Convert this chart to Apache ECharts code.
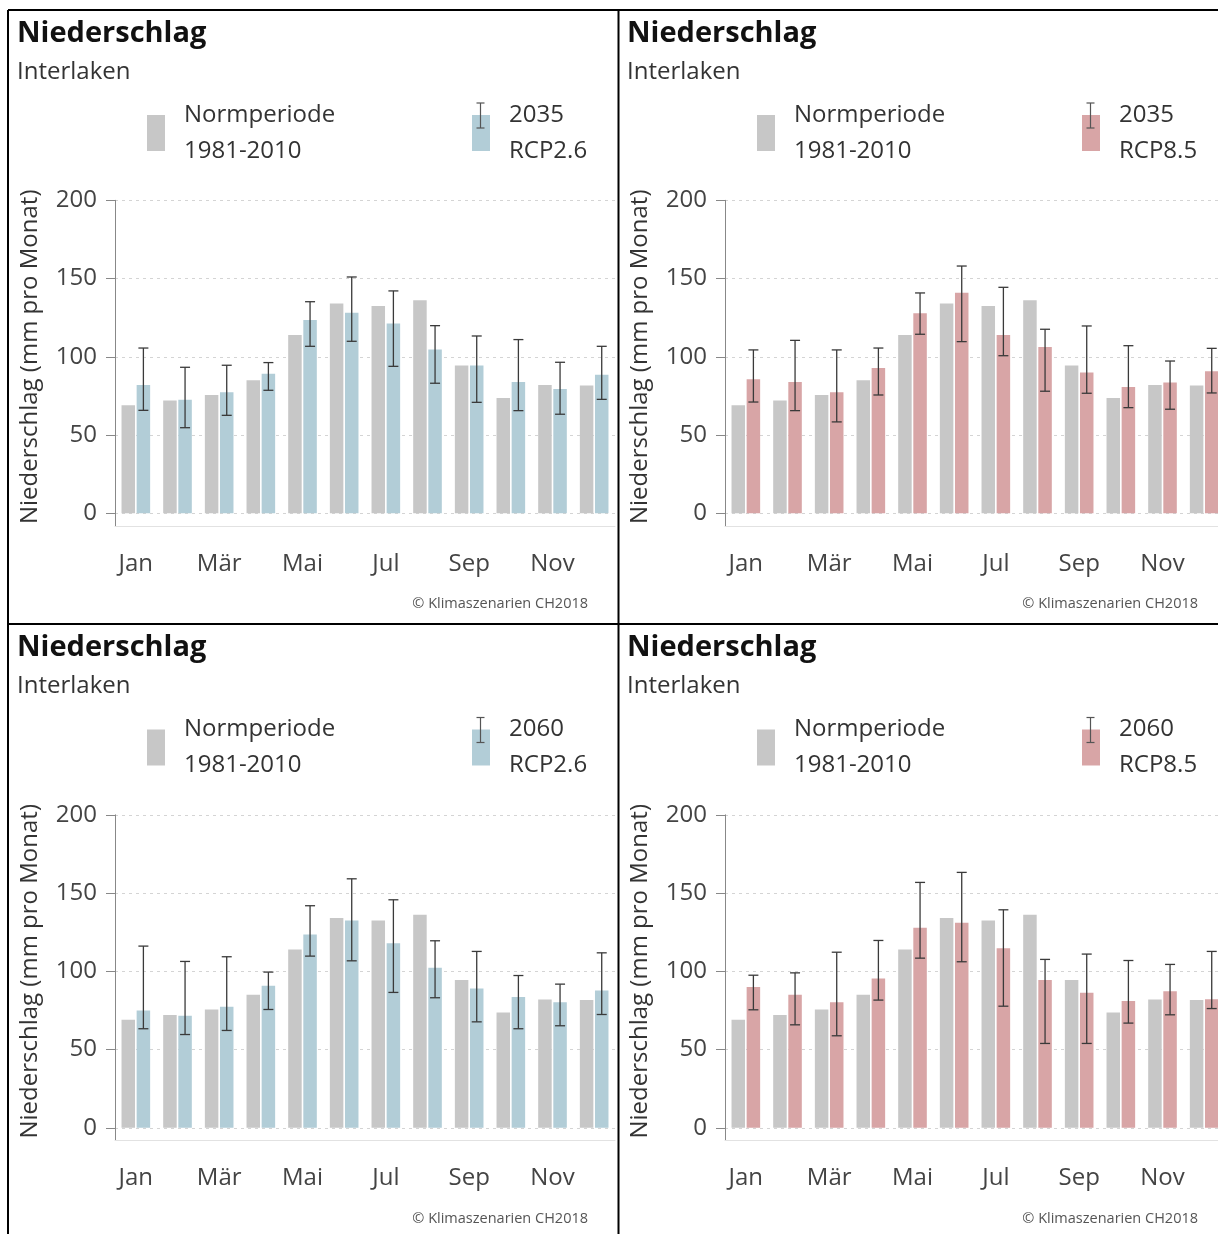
<!DOCTYPE html>
<html>
<head>
<meta charset="utf-8">
<script src="https://cdn.jsdelivr.net/npm/echarts@6/dist/echarts.min.js"></script>
<style>
html,body{margin:0;padding:0;background:#fff;}
#c{width:1218px;height:1234px;}
</style>
</head>
<body>
<div id="c"></div>
<script>
// ---- data ----
const months = ['Jan','Feb','Mär','Apr','Mai','Jun','Jul','Aug','Sep','Okt','Nov','Dez'];
const yTicks = [0, 50, 100, 150, 200];
const normName = 'Normperiode\n1981-2010';
const norm = [69.0, 72.0, 75.6, 85.0, 114.0, 134.0, 132.5, 136.1, 94.4, 73.7, 82.0, 81.6];

const rcp26_2035 = [82.0, 72.6, 77.3, 89.2, 123.5, 128.2, 121.2, 104.6, 94.4, 83.9, 79.4, 88.6];
const rcp26_2035_lo = [65.8, 54.7, 62.6, 78.6, 106.7, 109.9, 93.9, 83.1, 70.9, 65.6, 63.3, 72.8];
const rcp26_2035_hi = [105.6, 93.3, 94.6, 96.3, 135.2, 151.0, 142.1, 119.9, 113.3, 111.0, 96.5, 106.7];

const rcp85_2035 = [85.6, 83.9, 77.3, 92.9, 127.8, 141.0, 114.0, 106.3, 89.9, 80.7, 83.5, 90.7];
const rcp85_2035_lo = [71.1, 65.6, 58.4, 75.6, 114.4, 109.7, 100.7, 78.0, 76.7, 67.5, 66.5, 76.9];
const rcp85_2035_hi = [104.4, 110.5, 104.4, 105.6, 140.8, 158.0, 144.4, 117.6, 119.7, 107.1, 97.3, 105.4];

const rcp26_2060 = [75.0, 71.6, 77.3, 90.7, 123.5, 132.5, 118.0, 102.2, 89.0, 83.5, 80.3, 87.8];
const rcp26_2060_lo = [63.3, 59.6, 62.2, 75.6, 109.7, 106.7, 86.5, 83.1, 67.7, 63.3, 65.2, 72.4];
const rcp26_2060_hi = [116.1, 106.3, 109.3, 99.5, 141.9, 159.1, 145.7, 119.5, 112.7, 97.3, 91.8, 111.8];

const rcp85_2060 = [89.9, 85.0, 80.3, 95.4, 127.8, 131.0, 114.8, 94.4, 86.3, 81.1, 87.3, 82.2];
const rcp85_2060_lo = [75.4, 65.8, 58.8, 81.6, 108.4, 106.1, 77.7, 53.9, 53.9, 66.9, 72.2, 76.2];
const rcp85_2060_hi = [97.5, 99.0, 112.2, 119.7, 156.8, 163.2, 139.3, 107.6, 111.0, 106.9, 104.4, 112.7];

// ---- styling / layout ----
const FONT = 'Open Sans';
const GRAY = '#c7c7c7';
const BLUE = '#b2cdd7';
const RED = '#d8a5a6';
const BAR_W = 13.5;
const BAR_GAP = 0.12;
const ERR_OFF = (BAR_W + BAR_W * BAR_GAP) / 2;

const panels = [
  {ox: 0,   oy: 0,     name: '2035\nRCP2.6', color: BLUE, val: rcp26_2035, lo: rcp26_2035_lo, hi: rcp26_2035_hi},
  {ox: 610, oy: 0,     name: '2035\nRCP8.5', color: RED,  val: rcp85_2035, lo: rcp85_2035_lo, hi: rcp85_2035_hi},
  {ox: 0,   oy: 614.5, name: '2060\nRCP2.6', color: BLUE, val: rcp26_2060, lo: rcp26_2060_lo, hi: rcp26_2060_hi},
  {ox: 610, oy: 614.5, name: '2060\nRCP8.5', color: RED,  val: rcp85_2060, lo: rcp85_2060_lo, hi: rcp85_2060_hi}
];

const option = {
  backgroundColor: '#fff',
  animation: false,
  textStyle: {fontFamily: FONT},
  title: [], legend: [], grid: [], xAxis: [], yAxis: [], series: [], graphic: []
};

panels.forEach((p, k) => {
  const gA = 2 * k, gB = 2 * k + 1;
  option.title.push({
    text: 'Niederschlag', subtext: 'Interlaken',
    left: p.ox + 17, top: p.oy + 19, padding: 0, itemGap: 12,
    textStyle: {fontFamily: FONT, fontWeight: 'bold', fontSize: 29, color: '#111'},
    subtextStyle: {fontFamily: FONT, fontSize: 24, color: '#333'}
  });
  const legendCommon = {
    orient: 'horizontal', padding: 0, itemWidth: 18, itemHeight: 36, icon: 'rect',
    selectedMode: false,
    textStyle: {fontFamily: FONT, fontSize: 24, lineHeight: 36, color: '#333', padding: [4, 0, 0, 14]}
  };
  option.legend.push(Object.assign({}, legendCommon, {data: [normName], left: p.ox + 147, top: p.oy + 95}));
  option.legend.push(Object.assign({}, legendCommon, {data: [p.name], left: p.ox + 472, top: p.oy + 95}));

  option.grid.push({left: p.ox + 115, top: p.oy + 200.3, width: 500, height: 313, containLabel: false, outerBoundsMode: 'none'});
  option.grid.push({left: p.ox + 115, top: p.oy + 200.3, width: 500, height: 325.5, containLabel: false, outerBoundsMode: 'none'});

  option.xAxis.push({type: 'category', gridIndex: gA, data: months, show: false});
  option.xAxis.push({
    type: 'category', gridIndex: gB, data: months,
    axisLine: {lineStyle: {color: '#e2e2e2', width: 1}},
    axisTick: {alignWithLabel: true, interval: 0, length: 8, lineStyle: {color: '#777'}},
    axisLabel: {interval: 1, margin: 26, fontFamily: FONT, fontSize: 24, color: '#444'}
  });
  option.yAxis.push({
    type: 'value', gridIndex: gA, min: yTicks[0], max: yTicks[yTicks.length - 1], interval: 50,
    name: 'Niederschlag (mm pro Monat)', nameLocation: 'middle', nameRotate: 90, nameGap: 73,
    nameTextStyle: {fontFamily: FONT, fontSize: 24, color: '#333'},
    axisLine: {show: false},
    axisTick: {show: true, length: 9, lineStyle: {color: '#888'}},
    axisLabel: {margin: 18, fontFamily: FONT, fontSize: 24, color: '#444'},
    splitLine: {show: true, lineStyle: {color: '#d4d4d4', type: [3, 4], width: 1}}
  });
  option.yAxis.push({
    type: 'value', gridIndex: gB, min: 0, max: 1,
    axisLine: {show: true, lineStyle: {color: '#888', width: 1}},
    axisTick: {show: false}, axisLabel: {show: false}, splitLine: {show: false}
  });

  option.series.push({
    type: 'bar', name: normName, xAxisIndex: gA, yAxisIndex: 2 * k, data: norm,
    barWidth: BAR_W, barGap: (BAR_GAP * 100) + '%', itemStyle: {color: GRAY}
  });
  option.series.push({
    type: 'bar', name: p.name, xAxisIndex: gA, yAxisIndex: 2 * k, data: p.val,
    barWidth: BAR_W, barGap: (BAR_GAP * 100) + '%', itemStyle: {color: p.color}
  });
  option.series.push({
    type: 'custom', name: 'err' + k, xAxisIndex: gA, yAxisIndex: 2 * k, z: 5,
    data: months.map((m, i) => [i, p.lo[i], p.hi[i]]),
    encode: {x: 0, y: [1, 2]},
    renderItem: function (params, api) {
      const i = api.value(0);
      const a = api.coord([i, api.value(1)]);
      const b = api.coord([i, api.value(2)]);
      const x = a[0] + ERR_OFF;
      const st = {stroke: '#3a3a3a', lineWidth: 1.3};
      return {type: 'group', children: [
        {type: 'line', shape: {x1: x, y1: a[1], x2: x, y2: b[1]}, style: st},
        {type: 'line', shape: {x1: x - 5, y1: a[1], x2: x + 5, y2: a[1]}, style: st},
        {type: 'line', shape: {x1: x - 5, y1: b[1], x2: x + 5, y2: b[1]}, style: st}
      ]};
    }
  });

  // legend error-bar glyph
  const gx = p.ox + 480.5, gy1 = p.oy + 103, gy2 = p.oy + 128;
  const gst = {stroke: '#555', lineWidth: 1.2};
  option.graphic.push({type: 'line', z: 100, shape: {x1: gx, y1: gy1, x2: gx, y2: gy2}, style: gst});
  option.graphic.push({type: 'line', z: 100, shape: {x1: gx - 4, y1: gy1, x2: gx + 4, y2: gy1}, style: gst});
  option.graphic.push({type: 'line', z: 100, shape: {x1: gx - 4, y1: gy2, x2: gx + 4, y2: gy2}, style: gst});
  // footer
  option.graphic.push({
    type: 'text', z: 100,
    style: {text: '© Klimaszenarien CH2018', x: p.ox + 588, y: p.oy + 604, align: 'right', verticalAlign: 'middle',
            font: '14.5px "' + FONT + '"', fill: '#555'}
  });
});

// panel borders
const bst = {stroke: '#000', lineWidth: 2};
option.graphic.push({type: 'line', z: 100, shape: {x1: 8, y1: 10, x2: 1218, y2: 10}, style: bst});
option.graphic.push({type: 'line', z: 100, shape: {x1: 8, y1: 10, x2: 8, y2: 1234}, style: bst});
option.graphic.push({type: 'line', z: 100, shape: {x1: 618.5, y1: 10, x2: 618.5, y2: 1234}, style: bst});
option.graphic.push({type: 'line', z: 100, shape: {x1: 8, y1: 624, x2: 1218, y2: 624}, style: bst});

const chart = echarts.init(document.getElementById('c'), null, {renderer: 'canvas'});
chart.setOption(option);
</script>
</body>
</html>
